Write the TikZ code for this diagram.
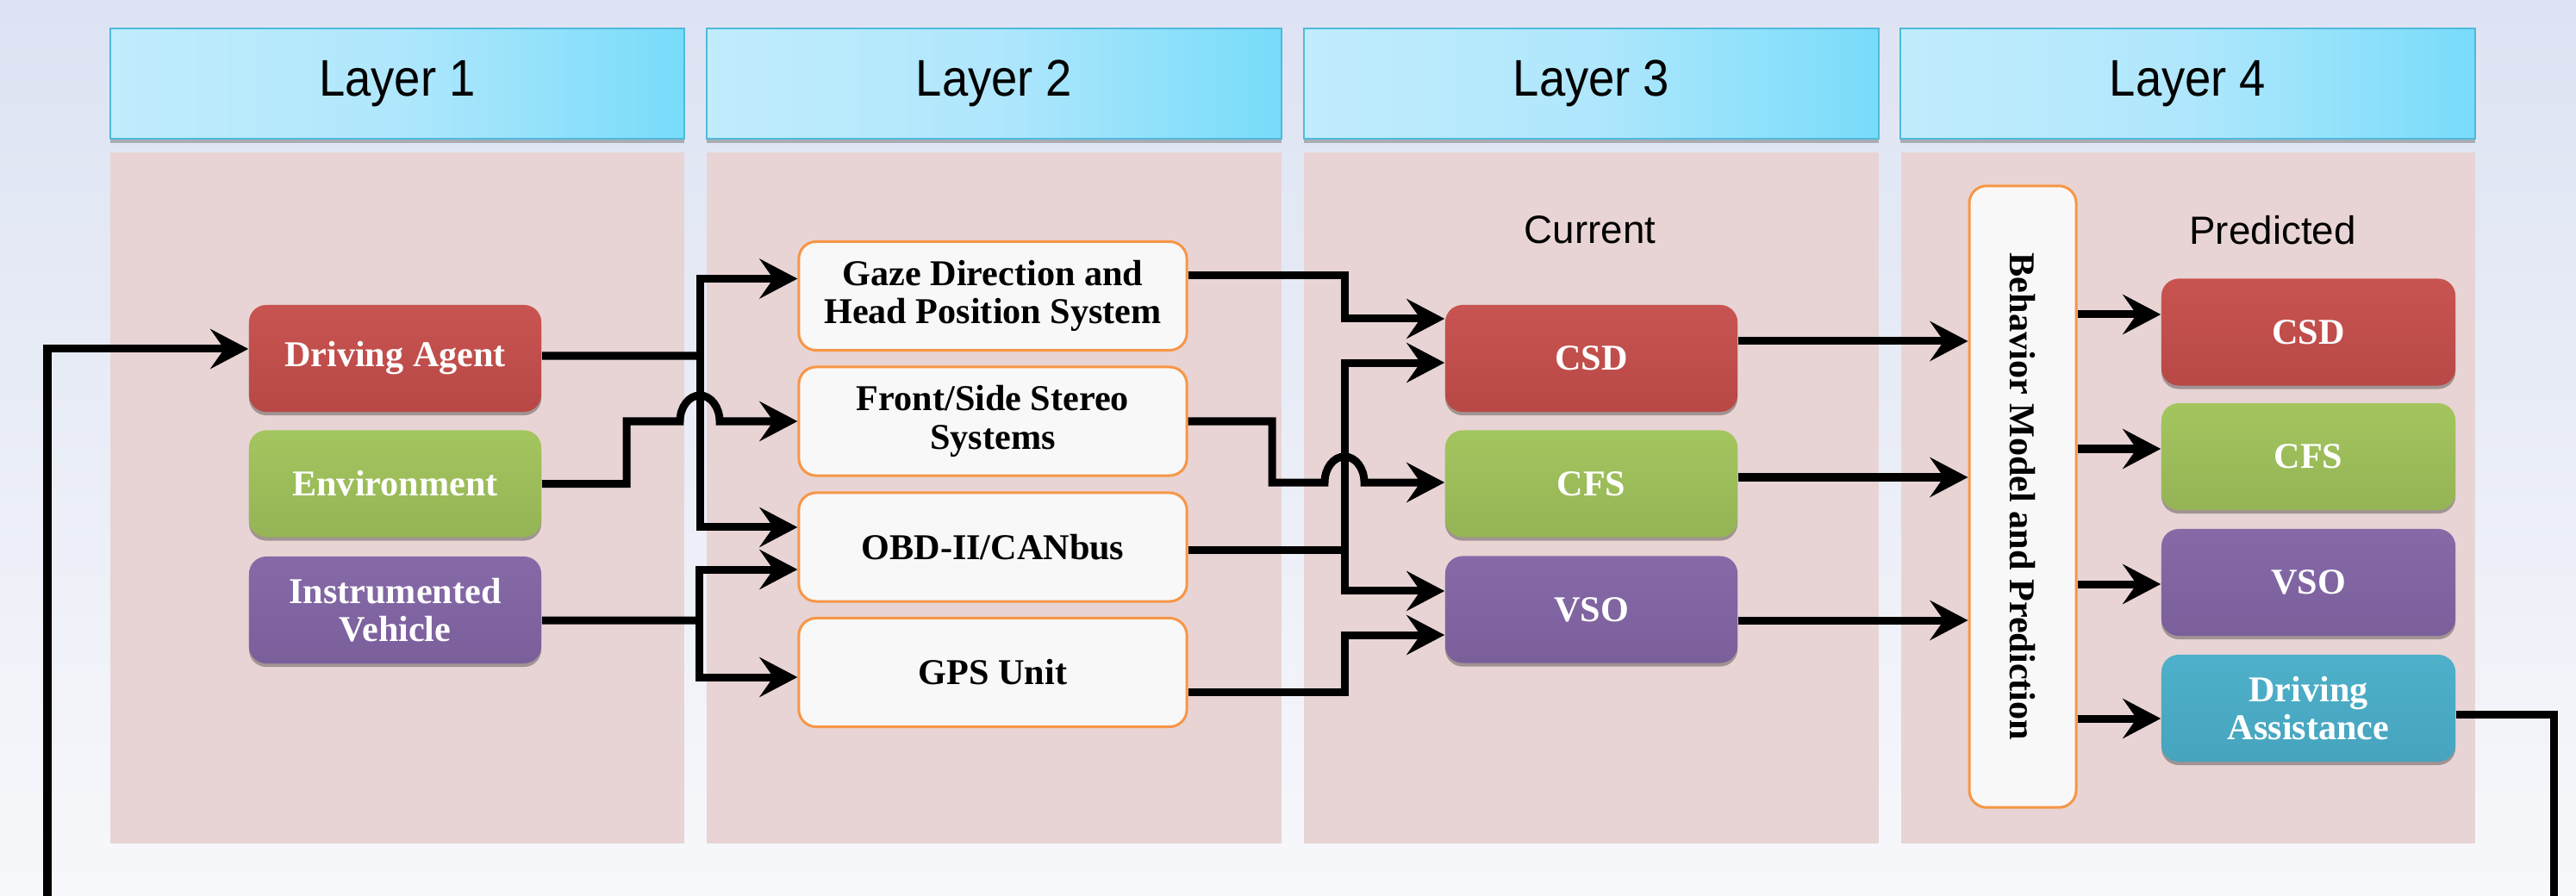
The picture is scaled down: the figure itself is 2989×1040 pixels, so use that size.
\documentclass[tikz,border=0pt]{standalone}
\usepackage{fontspec}
\usepackage{graphicx}
\setmainfont{Liberation Serif}
\newfontfamily\hdrfont[FakeStretch=0.91]{Liberation Sans}
\newfontfamily\lblfont{Liberation Sans}
\usetikzlibrary{arrows.meta,calc,shadows}
\definecolor{bgtop}{RGB}{221,227,243}
\definecolor{bgbot}{RGB}{247,248,251}
\definecolor{panel}{RGB}{232,212,212}
\definecolor{hdrL}{RGB}{192,236,252}
\definecolor{hdrM}{RGB}{176,231,252}
\definecolor{hdrR}{RGB}{120,220,250}
\definecolor{hdrB}{RGB}{79,186,220}
\definecolor{redT}{RGB}{200,84,81}
\definecolor{redB}{RGB}{184,72,70}
\definecolor{grnT}{RGB}{163,197,94}
\definecolor{grnB}{RGB}{149,180,86}
\definecolor{purT}{RGB}{134,106,168}
\definecolor{purB}{RGB}{122,95,155}
\definecolor{tealT}{RGB}{78,176,202}
\definecolor{tealB}{RGB}{70,164,190}
\definecolor{wfill}{RGB}{248,248,248}
\definecolor{orng}{RGB}{247,150,70}
\begin{document}
\begin{tikzpicture}[x=0.01cm,y=-0.01cm,
  hdr/.style={minimum width=6.66cm,minimum height=1.28cm,inner sep=0pt,draw=hdrB,line width=0.5pt,
    left color=hdrL,right color=hdrR,middle color=hdrM,font=\hdrfont\fontsize{17}{20}\selectfont,
    drop shadow={shadow xshift=0cm,shadow yshift=-0.045cm,fill=black!60,opacity=0.45}},
  pnl/.style={fill=panel,minimum width=6.66cm,minimum height=8.02cm,inner sep=0pt},
  cbox/.style={rounded corners=0.2cm,minimum width=3.39cm,minimum height=1.24cm,inner sep=0pt,
    text=white,align=center,font=\fontsize{12}{12.6}\selectfont\bfseries,
    drop shadow={shadow xshift=0cm,shadow yshift=-0.04cm,fill=black,opacity=0.3}},
  redbox/.style={cbox,top color=redT,bottom color=redB},
  grnbox/.style={cbox,top color=grnT,bottom color=grnB},
  purbox/.style={cbox,top color=purT,bottom color=purB},
  tealbox/.style={cbox,top color=tealT,bottom color=tealB},
  wbox/.style={rounded corners=0.2cm,fill=wfill,draw=orng,line width=0.03cm,minimum width=4.5cm,
    minimum height=1.26cm,inner sep=0pt,align=center,font=\fontsize{12}{12.6}\selectfont\bfseries},
  lbl/.style={font=\lblfont\fontsize{13}{15}\selectfont,inner sep=0pt},
  ln/.style={line width=0.09cm},
  arr/.style={ln,-{Stealth[length=0.44cm,width=0.46cm,inset=0.16cm]}},
]
\useasboundingbox (0,0) rectangle (2989,1040);
\clip (0,0) rectangle (2989,1040);
\shade[top color=bgtop,bottom color=bgbot] (0,0) rectangle (2989,1040);

% panels
\node[pnl] (p1) at (461,578) {};
\node[pnl] (p2) at (1153.5,578) {};
\node[pnl] (p3) at (1846.5,578) {};
\node[pnl] (p4) at (2539,578) {};

% headers
\node[hdr] (h1) at (461,97) {Layer 1};
\node[hdr] (h2) at (1153.5,97) {Layer 2};
\node[hdr] (h3) at (1846.5,97) {Layer 3};
\node[hdr] (h4) at (2538.5,97) {Layer 4};

% layer 1
\node[redbox] (da) at (458.5,416) {Driving Agent};
\node[grnbox] (env) at (458.5,561.5) {Environment};
\node[purbox] (ia) at (458.5,708) {Instrumented\\Vehicle};

% layer 2
\node[wbox] (gz) at (1152,343.5) {Gaze Direction and\\Head Position System};
\node[wbox] (fs) at (1152,489) {Front/Side Stereo\\Systems};
\node[wbox] (obd) at (1152,635) {OBD-II/CANbus};
\node[wbox] (gps) at (1152,780.5) {GPS Unit};

% layer 3
\node[lbl] (cur) at (1845,267) {Current};
\node[redbox] (csd) at (1846.5,416) {CSD};
\node[grnbox] (cfs) at (1846.5,561.5) {CFS};
\node[purbox] (vso) at (1846.5,707.5) {VSO};

% layer 4
\node[wbox,minimum width=1.24cm,minimum height=7.21cm] (bm) at (2347,576.5)
  {\rotatebox{-90}{Behavior Model and Prediction}};
\node[lbl] (pred) at (2637,267) {Predicted};
\node[redbox,minimum width=3.41cm] (pcsd) at (2678.5,385.5) {CSD};
\node[grnbox,minimum width=3.41cm] (pcfs) at (2678.5,530) {CFS};
\node[purbox,minimum width=3.41cm] (pvso) at (2678.5,676) {VSO};
\node[tealbox,minimum width=3.41cm] (pda) at (2678.5,822) {Driving\\Assistance};

% junction coordinates
\coordinate (jda) at (812,413);
\coordinate (jia) at (811,720);
\coordinate (envx) at (727,0);
\coordinate (fsx) at (1476,0);
\coordinate (colx) at (1560,0);
\coordinate (fbR) at (2963,1100);
\coordinate (fbL) at (55,1100);

% layer 1 -> layer 2
\draw[ln] ([yshift=0.03cm]da.east) -- (jda);
\draw[arr] (jda) |- ([yshift=0.2cm]gz.west);
\draw[arr] (jda) |- ([yshift=0.23cm]obd.west);
\draw[arr] (env.east) -- (env.east -| envx) -- (envx |- fs.west)
  -- ($(jda |- fs.west)+(-23,0)$) arc[start angle=180,end angle=0,x radius=0.23cm,y radius=0.3cm]
  -- (fs.west);
\draw[ln] ([yshift=-0.12cm]ia.east) -- (jia);
\draw[arr] (jia) |- ([yshift=-0.26cm]obd.west);
\draw[arr] (jia) |- ([yshift=-0.055cm]gps.west);

% layer 2 -> layer 3
\coordinate (gzo) at ([yshift=0.235cm]gz.east);
\coordinate (csda) at ([yshift=0.46cm]csd.west);
\draw[arr] (gzo) -- (gzo -| colx) -- (colx |- csda) -- (csda);
\coordinate (cfsin) at ([yshift=0.015cm]cfs.west);
\draw[arr] (fs.east) -- (fs.east -| fsx) -- (fsx |- cfsin)
  -- ($(colx |- cfsin)+(-23,0)$) arc[start angle=180,end angle=0,x radius=0.23cm,y radius=0.3cm]
  -- (cfsin);
\coordinate (obdo) at ([yshift=-0.03cm]obd.east);
\draw[ln] (obdo) -- (obdo -| colx);
\draw[arr] (obdo -| colx) |- ([yshift=-0.05cm]csd.west);
\draw[arr] (obdo -| colx) |- ([yshift=0.215cm]vso.west);
\coordinate (gpso) at ([yshift=-0.225cm]gps.east);
\coordinate (vsob) at ([yshift=-0.295cm]vso.west);
\draw[arr] (gpso) -- (gpso -| colx) -- (colx |- vsob) -- (vsob);

% layer 3 -> behavior model
\coordinate (csdo) at ([yshift=0.2cm]csd.east);
\draw[arr] (csdo) -- (csdo -| bm.west);
\coordinate (cfso) at ([yshift=0.075cm]cfs.east);
\draw[arr] (cfso) -- (cfso -| bm.west);
\coordinate (vsoo) at ([yshift=-0.125cm]vso.east);
\draw[arr] (vsoo) -- (vsoo -| bm.west);

% behavior model -> predicted
\coordinate (q1) at ([yshift=0.205cm]pcsd.west);
\draw[arr] (q1 -| bm.east) -- (q1);
\coordinate (q2) at ([yshift=0.09cm]pcfs.west);
\draw[arr] (q2 -| bm.east) -- (q2);
\coordinate (q3) at ([yshift=-0.02cm]pvso.west);
\draw[arr] (q3 -| bm.east) -- (q3);
\coordinate (q4) at ([yshift=-0.12cm]pda.west);
\draw[arr] (q4 -| bm.east) -- (q4);

% feedback loop
\draw[arr] ([yshift=-0.07cm]pda.east) -| (fbR) -- (fbL) |- ([yshift=0.11cm]da.west);
\end{tikzpicture}
\end{document}
